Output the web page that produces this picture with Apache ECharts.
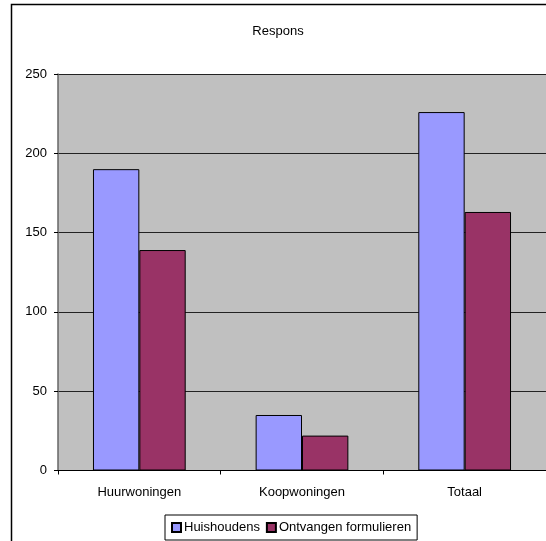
<!DOCTYPE html>
<html>
<head>
<meta charset="utf-8">
<script src="https://cdn.jsdelivr.net/npm/echarts@6/dist/echarts.min.js"></script>
<style>
  html, body { margin: 0; padding: 0; background: #fff; }
  #chart { width: 546px; height: 541px; }
</style>
</head>
<body>
<div id="chart"></div>
<script>
// Response counts per housing type
const categories = ['Huurwoningen', 'Koopwoningen', 'Totaal'];
const huishoudens = [190, 35, 226];
const ontvangen = [139, 22, 163];
const yTicks = { min: 0, max: 250, interval: 50 };

const chart = echarts.init(document.getElementById('chart'), null, { renderer: 'canvas' });
const font = 'Liberation Sans, Arial, sans-serif';

chart.setOption({
  animation: false,
  backgroundColor: '#ffffff',
  title: {
    text: 'Respons',
    left: 273,
    textAlign: 'center',
    top: 20,
    textStyle: { fontFamily: font, fontSize: 13, fontWeight: 'normal', color: '#000' }
  },
  graphic: [{
    type: 'rect',
    shape: { x: 11.5, y: 4.5, width: 560, height: 560 },
    style: { fill: 'none', stroke: '#000', lineWidth: 1.5 },
    z: -1
  }],
  legend: {
    left: 165,
    top: 515,
    itemWidth: 9,
    itemHeight: 9,
    itemGap: 6,
    padding: [6, 6, 6, 6],
    borderColor: '#000',
    borderWidth: 1,
    icon: 'rect',
    textStyle: { fontFamily: font, fontSize: 13, color: '#000', padding: [0, 0, 0, -2] },
    data: ['Huishoudens', 'Ontvangen formulieren']
  },
  grid: {
    left: 58,
    top: 74,
    width: 494,
    bottom: 70.5,
    show: true,
    backgroundColor: '#c0c0c0',
    borderWidth: 0
  },
  xAxis: {
    type: 'category',
    data: categories,
    axisLine: { lineStyle: { color: '#000', width: 1 } },
    axisTick: { show: true, length: 4, alignWithLabel: false, lineStyle: { color: '#000' } },
    axisLabel: { fontFamily: font, fontSize: 13, color: '#000', margin: 15 }
  },
  yAxis: {
    type: 'value',
    min: yTicks.min,
    max: yTicks.max,
    interval: yTicks.interval,
    axisLine: { show: true, lineStyle: { color: '#666', width: 1.5 } },
    axisTick: { show: true, length: 4, lineStyle: { color: '#000' } },
    axisLabel: { fontFamily: font, fontSize: 13, color: '#000', margin: 11 },
    splitLine: { show: true, lineStyle: { color: '#222', width: 1 } }
  },
  series: [
    {
      name: 'Huishoudens',
      type: 'bar',
      data: huishoudens,
      barGap: '0%',
      barCategoryGap: '43%',
      itemStyle: { color: '#9999ff', borderColor: '#000', borderWidth: 1 }
    },
    {
      name: 'Ontvangen formulieren',
      type: 'bar',
      data: ontvangen,
      itemStyle: { color: '#993366', borderColor: '#000', borderWidth: 1 }
    }
  ]
});
</script>
</body>
</html>
